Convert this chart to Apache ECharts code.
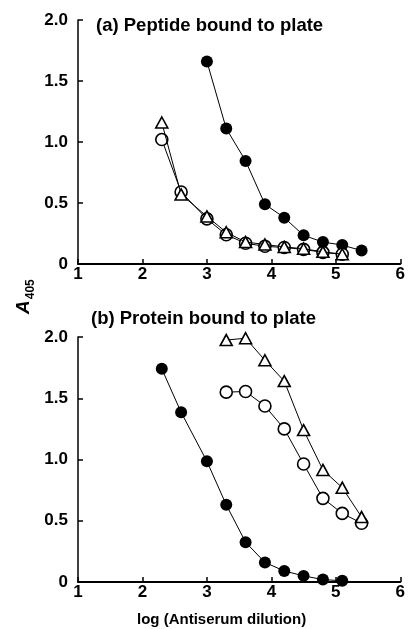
<!DOCTYPE html>
<html>
<head>
<meta charset="utf-8">
<script src="https://cdn.jsdelivr.net/npm/echarts@6/dist/echarts.min.js"></script>
<style>
  html, body { margin: 0; padding: 0; background: #fff; }
  #chart { width: 408px; height: 629px; }
</style>
</head>
<body>
<div id="chart"></div>
<script>
// (a) peptide bound to plate, x = log(antiserum dilution)
const aFilledX = [3.0, 3.3, 3.6, 3.9, 4.2, 4.5, 4.8, 5.1, 5.4];
const aFilled  = [1.66, 1.11, 0.845, 0.49, 0.38, 0.235, 0.18, 0.155, 0.11];
const aOpenX   = [2.3, 2.6, 3.0, 3.3, 3.6, 3.9, 4.2, 4.5, 4.8, 5.1];
const aOpen    = [1.02, 0.59, 0.37, 0.24, 0.17, 0.145, 0.135, 0.12, 0.095, 0.08];
const aTri     = [1.16, 0.57, 0.39, 0.26, 0.18, 0.16, 0.14, 0.125, 0.10, 0.08];
// (b) protein bound to plate
const bFilledX = [2.3, 2.6, 3.0, 3.3, 3.6, 3.9, 4.2, 4.5, 4.8, 5.1];
const bFilled  = [1.74, 1.385, 0.985, 0.63, 0.325, 0.16, 0.09, 0.05, 0.02, 0.01];
const bOpenX   = [3.3, 3.6, 3.9, 4.2, 4.5, 4.8, 5.1, 5.4];
const bOpen    = [1.55, 1.555, 1.437, 1.25, 0.963, 0.683, 0.56, 0.48];
const bTri     = [1.975, 1.99, 1.81, 1.64, 1.24, 0.915, 0.77, 0.53];

const xTicks = [1, 2, 3, 4, 5, 6];
const yTicks = [0, 0.5, 1.0, 1.5, 2.0];

const pair = (xs, ys) => ys.map((v, i) => [xs[i], v]);

const chart = echarts.init(document.getElementById('chart'));

const font = 'Liberation Sans, Arial, sans-serif';

const xAxisCfg = (gi) => ({
  type: 'value', gridIndex: gi,
  min: xTicks[0], max: xTicks[xTicks.length - 1], interval: 1,
  axisLine: { lineStyle: { color: '#000', width: 2 } },
  axisTick: { inside: true, length: 5, lineStyle: { color: '#000', width: 1.5 } },
  axisLabel: { color: '#000', fontSize: 17, fontWeight: 'bold', fontFamily: font, margin: 2 },
  splitLine: { show: false }
});
const yAxisCfg = (gi) => ({
  type: 'value', gridIndex: gi,
  min: yTicks[0], max: yTicks[yTicks.length - 1], interval: 0.5,
  axisLine: { show: true, lineStyle: { color: '#000', width: 1.5 } },
  axisTick: { show: true, inside: true, length: 5, lineStyle: { color: '#000', width: 1.5 } },
  axisLabel: {
    color: '#000', fontSize: 17, fontWeight: 'bold', fontFamily: font, margin: 10,
    formatter: v => v === 0 ? '0' : v.toFixed(1)
  },
  splitLine: { show: false }
});

const line = (name, gi, data, symbol, filled, z) => ({
  name, type: 'line', xAxisIndex: gi, yAxisIndex: gi, data,
  symbol, symbolSize: symbol === 'triangle' ? [12, 11] : 12,
  showAllSymbol: true,
  lineStyle: { color: '#000', width: 1 },
  itemStyle: { color: filled ? '#000' : '#fff', borderColor: '#000', borderWidth: filled ? 0 : 1.6 },
  z: z, animation: false
});

chart.setOption({
  backgroundColor: '#fff',
  animation: false,
  grid: [
    { left: 78, top: 20, width: 324, height: 244 },
    { left: 78, top: 337, width: 324, height: 245 }
  ],
  xAxis: [xAxisCfg(0), xAxisCfg(1)],
  yAxis: [yAxisCfg(0), yAxisCfg(1)],
  series: [
    line('a-filled', 0, pair(aFilledX, aFilled), 'circle', true, 3),
    line('a-open', 0, pair(aOpenX, aOpen), 'circle', false, 4),
    line('a-tri', 0, pair(aOpenX, aTri), 'triangle', false, 5),
    line('b-filled', 1, pair(bFilledX, bFilled), 'circle', true, 3),
    line('b-open', 1, pair(bOpenX, bOpen), 'circle', false, 4),
    line('b-tri', 1, pair(bOpenX, bTri), 'triangle', false, 5)
  ],
  graphic: [
    { type: 'text', left: 96, top: 16, style: { text: '(a) Peptide bound to plate', fill: '#000', font: 'bold 18.5px ' + font } },
    { type: 'text', left: 91, top: 309, style: { text: '(b) Protein bound to plate', fill: '#000', font: 'bold 18.5px ' + font } },
    { type: 'text', left: 137, top: 612, style: { text: 'log (Antiserum dilution)', fill: '#000', font: 'bold 15px ' + font } },
    {
      type: 'text', x: 14, y: 314, rotation: Math.PI / 2,
      style: {
        text: '{a|A}{s|405}', fill: '#000',
        rich: {
          a: { fontSize: 19, fontStyle: 'italic', fontWeight: 'bold', fontFamily: font, verticalAlign: 'bottom' },
          s: { fontSize: 12, fontWeight: 'bold', fontFamily: font, verticalAlign: 'bottom', padding: [0, 0, -4, 1] }
        }
      }
    }
  ]
});
</script>
</body>
</html>
